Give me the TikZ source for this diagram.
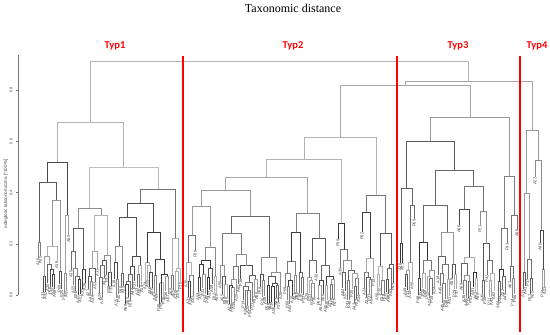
\documentclass[tikz,border=0pt]{standalone}
\usepackage{fontspec}
\newfontfamily\titlefont{Liberation Serif}
\newfontfamily\typfont{Carlito}
\newfontfamily\smallsans{Liberation Sans}
\newcount\myseed \myseed=2718
\newcount\rndtmp
\newcount\leafno
\newdimen\gxd
\newdimen\dxd \dxd=2.3pt
\def\nextrand{%
  \global\multiply\myseed by 25173
  \global\advance\myseed by 13849
  \rndtmp=\myseed \divide\rndtmp by 65536 \multiply\rndtmp by 65536
  \global\advance\myseed by -\rndtmp}
\def\rint#1#2#3{\nextrand
  \rndtmp=\numexpr(#3)-(#2)+1\relax
  \multiply\rndtmp by \myseed
  \divide\rndtmp by 65536
  \advance\rndtmp by \numexpr#2\relax
  \edef#1{\the\rndtmp}}
\def\Xat#1{\global\gxd=#1pt\relax}
\def\chh#1#2#3{%
  \rint\qrA{50}{92}\rint\qrB{55}{100}%
  \pgfmathsetmacro#1{295-max(2,min(\qrA/100*(295-#3),\qrB/100*(6+20*ln(#2)/ln(2))))}}
\def\Rt#1#2{%
  \begingroup
  \edef\qn{#1}\edef\qh{#2}%
  \ifnum\qn=1\relax
    \pgfmathsetmacro\qlx{\gxd}%
    \global\advance\gxd by \dxd
    \global\advance\leafno by 1
    \rint\qhg{13}{20}%
    \pgfmathsetmacro\qlb{\parh+\qhg}%
    \rint\qla{1}{3}\rint\qln{10}{69}%
    \node[leaflab] (lf\the\leafno) at (\qlx,-\qlb) {\ifnum\qla=1 P\else A\fi\qln};
    \xdef\gRX{\qlx}\xdef\gRY{\qlb}%
  \else
    \pgfmathtruncatemacro\qlo{max(1,floor(\qn*0.2))}%
    \pgfmathtruncatemacro\qhi{\qn-\qlo}%
    \rint\qna{\qlo}{\qhi}%
    \pgfmathtruncatemacro\qnb{\qn-\qna}%
    \edef\parh{\qh}%
    \chh\qha{\qna}{\qh}%
    \chh\qhb{\qnb}{\qh}%
    \Rt{\qna}{\qha}\let\qxa\gRX\let\qya\gRY
    \Rt{\qnb}{\qhb}\let\qxb\gRX\let\qyb\gRY
    \rint\qci{28}{80}%
    \draw[br,draw=black!\qci] (\qxa,-\qya) -- (\qxa,-\qh) -- (\qxb,-\qh) -- (\qxb,-\qyb);
    \pgfmathsetmacro\qxm{(\qxa+\qxb)/2}%
    \xdef\gRX{\qxm}\xdef\gRY{\qh}%
  \fi
  \endgroup}
\def\Jn#1#2#3#4{%
  \begingroup
  \def\parh{#1}%
  #3\let\qxa\gRX\let\qya\gRY
  #4\let\qxb\gRX\let\qyb\gRY
  \draw[br,draw=black!#2] (\qxa,-\qya) -- (\qxa,-#1) -- (\qxb,-#1) -- (\qxb,-\qyb);
  \pgfmathsetmacro\qxm{(\qxa+\qxb)/2}%
  \xdef\gRX{\qxm}\xdef\gRY{#1}%
  \endgroup}
\tikzset{
  br/.style={line width=0.6pt},
  leaflab/.style={font=\smallsans\fontsize{4.1}{5}\selectfont, text=black!75, rotate=90, anchor=east, inner sep=0.4pt},
  redline/.style={draw=red, line width=1.5pt},
  typlab/.style={font=\typfont\bfseries\fontsize{10.5}{12}\selectfont, text=red},
  axisline/.style={draw=black!55, line width=0.6pt},
  ticklab/.style={font=\smallsans\fontsize{4}{5}\selectfont, text=black!70, rotate=90},
}
\begin{document}
\begin{tikzpicture}[x=1pt,y=1pt]
\fill[white] (0,0) rectangle (550,-335);
\useasboundingbox (0,0) rectangle (550,-335);
\node[font=\titlefont\fontsize{12}{14}\selectfont] (title) at (293,-8) {Taxonomic distance};
% axis
\draw[axisline] (18,-55) coordinate (axtop) -- (18,-295) coordinate (axbot);
\foreach \v/\lab in {0/0.0,1/0.2,2/0.4,3/0.6,4/0.8} {
  \pgfmathsetmacro\ty{-295+51.2*\v}
  \draw[axisline] (15.5,\ty) -- (18,\ty);
  \node[ticklab] (tick\v) at (11,\ty) {\lab};
}
\node[ticklab, font=\smallsans\fontsize{4.6}{5.5}\selectfont] (axlab) at (6,-194) {odległość taksonomiczna [*100\%]};
% dendrogram
\Jn{61}{30}{%
  \Jn{122}{30}{%
    \Jn{162}{72}{%
      \Jn{182}{65}{\Xat{38}\Rt{2}{242}}{\Xat{43}\Rt{9}{200}}%
    }{\Xat{64}\Rt{3}{215}}%
  }{%
    \Jn{167}{25}{%
      \Jn{208}{45}{\Xat{71}\Rt{7}{228}}{\Xat{88}\Rt{11}{215}}%
    }{%
      \Jn{189}{55}{%
        \Jn{203}{70}{\Xat{114}\Rt{13}{217}}{\Xat{145}\Rt{11}{232}}%
      }{\Xat{171}\Rt{5}{238}}%
    }%
  }%
}{%
  \Jn{81}{35}{%
    \Jn{85}{35}{%
      \Jn{137}{30}{%
        \Jn{159}{30}{%
          \Jn{177}{35}{%
            \Jn{190}{40}{%
              \Jn{206}{40}{\Xat{186}\Rt{5}{235}}{\Xat{198}\Rt{9}{247}}%
            }{%
              \Jn{216}{60}{\Xat{220}\Rt{17}{233}}{\Xat{260}\Rt{10}{257}}%
            }%
          }{%
            \Jn{213}{50}{\Xat{285}\Rt{9}{232}}{\Xat{307}\Rt{13}{238}}%
          }%
        }{\Xat{338}\Rt{10}{223}}%
      }{%
        \Jn{195}{55}{\Xat{362}\Rt{6}{212}}{\Xat{377}\Rt{8}{233}}%
      }%
    }{%
      \Jn{117}{40}{%
        \Jn{141}{65}{%
          \Jn{188}{60}{\Xat{400}\Rt{2}{243}}{\Xat{405}\Rt{5}{205}}%
        }{%
          \Jn{170}{60}{%
            \Jn{205}{60}{\Xat{418}\Rt{8}{242}}{\Xat{438}\Rt{9}{232}}%
          }{%
            \Jn{186}{55}{\Xat{459}\Rt{9}{209}}{\Xat{480}\Rt{7}{211}}%
          }%
        }%
      }{%
        \Jn{176}{50}{\Xat{498}\Rt{5}{228}}{\Xat{510}\Rt{4}{215}}%
      }%
    }%
  }{%
    \Jn{130}{40}{\Xat{523}\Rt{5}{193}}{\Jn{160}{45}{\Xat{535}\Rt{1}{}}{\Xat{540}\Rt{3}{230}}}%
  }%
}
% type separators and labels
\draw[redline] (183,-56) coordinate (r1t) -- (183,-332) coordinate (r1b);
\draw[redline] (397,-56) coordinate (r2t) -- (397,-332) coordinate (r2b);
\draw[redline] (520,-56) coordinate (r3t) -- (520,-332) coordinate (r3b);
\node[typlab] (typ1) at (115,-46) {Typ1};
\node[typlab] (typ2) at (293,-46) {Typ2};
\node[typlab] (typ3) at (458,-46) {Typ3};
\node[typlab] (typ4) at (537,-46) {Typ4};
\end{tikzpicture}
\end{document}
